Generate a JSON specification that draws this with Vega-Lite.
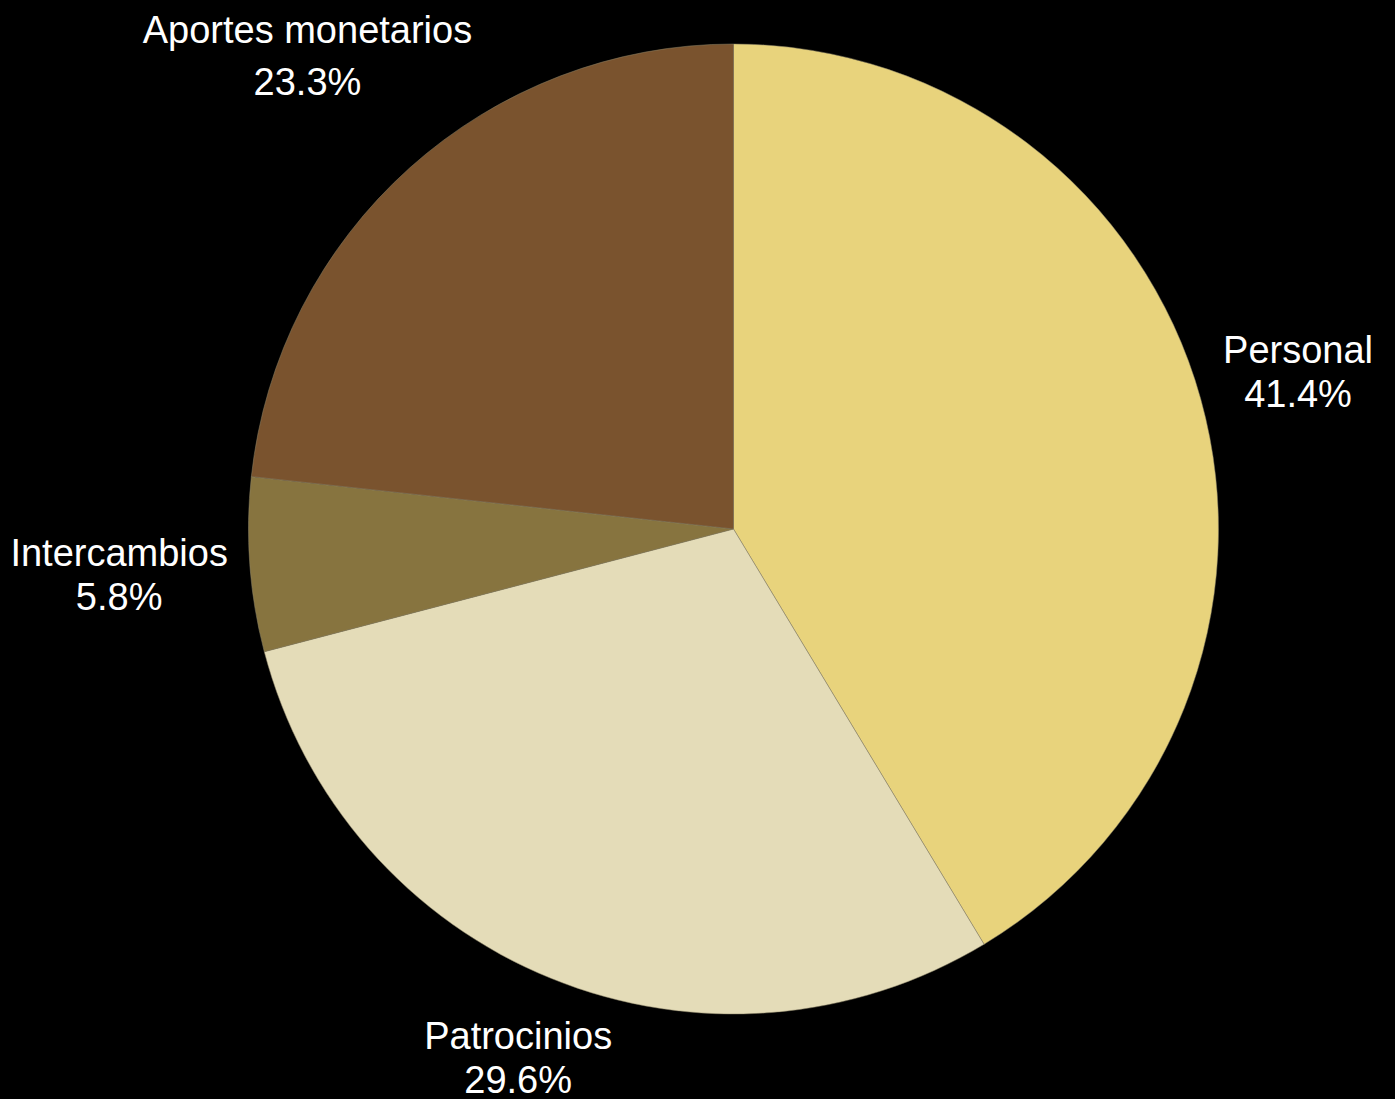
{
  "$schema": "https://vega.github.io/schema/vega-lite/v6.json",
  "width": 1321,
  "height": 1058,
  "autosize": {"type": "none"},
  "padding": {"left": 73, "top": 0, "right": 1, "bottom": 41},
  "background": "black",
  "config": {"view": {"stroke": null}},
  "data": {
    "values": [
      {"category": "Personal", "value": 41.4, "idx": 1, "label": "Personal\n41.4%"},
      {"category": "Patrocinios", "value": 29.6, "idx": 2, "label": "Patrocinios\n29.6%"},
      {"category": "Intercambios", "value": 5.8, "idx": 3, "label": "Intercambios\n5.8%"},
      {"category": "Aportes monetarios", "value": 23.3, "idx": 4, "label": "Aportes monetarios\n23.3%"}
    ]
  },
  "encoding": {
    "theta": {"field": "value", "type": "quantitative", "stack": true},
    "order": {"field": "idx", "type": "quantitative"},
    "detail": {"field": "category", "type": "nominal"}
  },
  "layer": [
    {
      "mark": {"type": "arc", "outerRadius": 485, "stroke": "#8c8468", "strokeWidth": 0.5},
      "encoding": {
        "color": {
          "field": "category",
          "type": "nominal",
          "scale": {
            "domain": ["Personal", "Patrocinios", "Intercambios", "Aportes monetarios"],
            "range": ["#E8D37C", "#E4DCB8", "#87743F", "#7A532E"]
          },
          "legend": null
        }
      }
    },
    {
      "mark": {"type": "text", "radius": 586, "dy": -20, "fontSize": 38, "font": "Liberation Sans", "fill": "white", "lineBreak": "\n", "lineHeight": 44, "align": "center", "baseline": "middle"},
      "encoding": {"text": {"condition": {"test": "datum.category === 'Personal'", "field": "label", "type": "nominal"}, "value": ""}}
    },
    {
      "mark": {"type": "text", "radius": 572, "dy": -21, "fontSize": 38, "font": "Liberation Sans", "fill": "white", "lineBreak": "\n", "lineHeight": 44, "align": "center", "baseline": "middle"},
      "encoding": {"text": {"condition": {"test": "datum.category === 'Patrocinios'", "field": "label", "type": "nominal"}, "value": ""}}
    },
    {
      "mark": {"type": "text", "radius": 616, "dy": -19, "fontSize": 38, "font": "Liberation Sans", "fill": "white", "lineBreak": "\n", "lineHeight": 44, "align": "center", "baseline": "middle"},
      "encoding": {"text": {"condition": {"test": "datum.category === 'Intercambios'", "field": "label", "type": "nominal"}, "value": ""}}
    },
    {
      "mark": {"type": "text", "radius": 635, "dy": -24, "dx": -2, "fontSize": 38, "font": "Liberation Sans", "fill": "white", "lineBreak": "\n", "lineHeight": 52, "align": "center", "baseline": "middle"},
      "encoding": {"text": {"condition": {"test": "datum.category === 'Aportes monetarios'", "field": "label", "type": "nominal"}, "value": ""}}
    }
  ]
}
